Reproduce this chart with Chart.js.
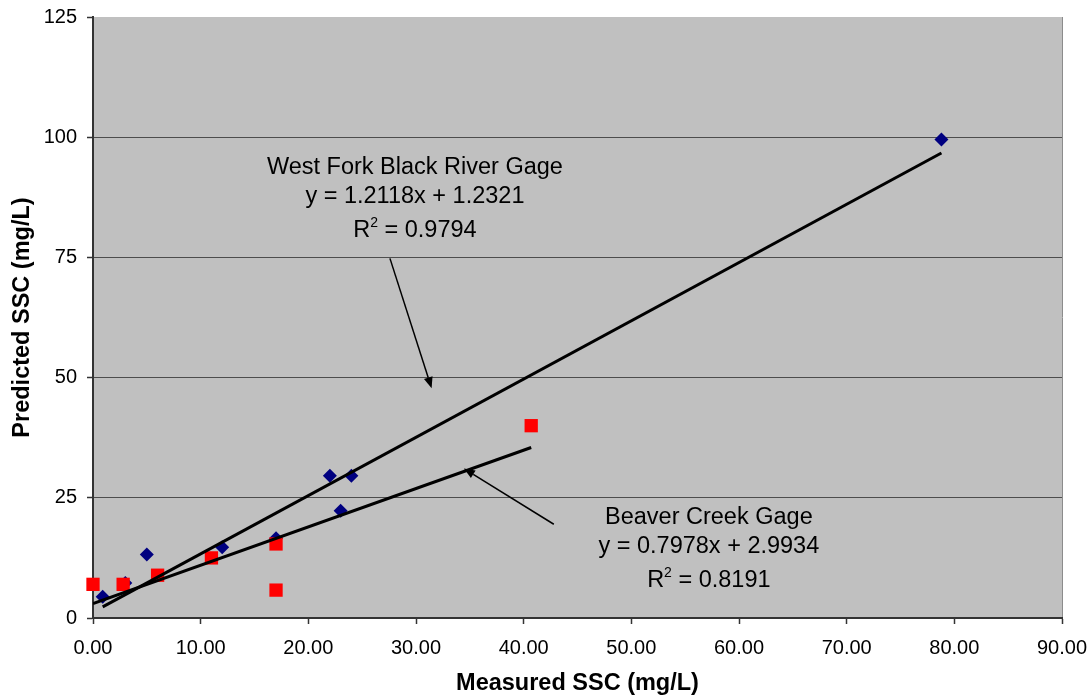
<!DOCTYPE html>
<html>
<head>
<meta charset="utf-8">
<script src="https://cdn.jsdelivr.net/npm/chart.js@4.4.1/dist/chart.umd.min.js"></script>
<style>
  html, body { margin: 0; padding: 0; background: #fff; }
</style>
</head>
<body>
<canvas id="chart" width="1089" height="698"></canvas>
<script>
// West Fork Black River gage (blue diamonds)
const westForkMeasured = [0.9, 3.0, 5.0, 12.0, 17.0, 22.0, 23.0, 24.0, 78.8];
const westForkPredicted = [4.4, 7.3, 13.2, 14.7, 16.6, 29.6, 22.3, 29.6, 99.5];

// Beaver Creek gage (red squares)
const beaverMeasured = [0.0, 2.8, 6.0, 11.0, 17.0, 17.0, 40.7];
const beaverPredicted = [7.0, 7.0, 8.9, 12.5, 15.4, 5.8, 40.0];

// Linear trend lines as printed on the chart
const westForkFit = { slope: 1.2118, intercept: 1.2321, r2: '0.9794' };
const beaverFit = { slope: 0.7978, intercept: 2.9934, r2: '0.8191' };

const xTicks = [0, 10, 20, 30, 40, 50, 60, 70, 80, 90];
const yTicks = [0, 25, 50, 75, 100, 125];

const FONT = "'Liberation Sans', Arial, sans-serif";

function points(xs, ys) {
  return xs.map((x, i) => ({ x: x, y: ys[i] }));
}

// trend line runs over the measured range of its own series
function trendPoints(xs, fit) {
  const lo = Math.min(...xs), hi = Math.max(...xs);
  return [lo, hi].map(x => ({ x: x, y: fit.slope * x + fit.intercept }));
}

function equation(fit) {
  return 'y = ' + fit.slope.toFixed(4) + 'x + ' + fit.intercept.toFixed(4);
}

// text boxes and arrows (in data units)
const notes = [
  { x: 29.9, y: 94.0, title: 'West Fork Black River Gage', fit: westForkFit },
  { x: 57.2, y: 21.3, title: 'Beaver Creek Gage', fit: beaverFit }
];
const arrows = [
  { from: [27.58, 74.8], to: [31.45, 47.8] },
  { from: [42.8, 19.5], to: [34.45, 31.1] }
];

// keep the plot area where the reference has it
function noEdgePadding(s) {
  s.paddingLeft = 0;
  s.paddingRight = 0;
  s.paddingTop = 0;
  s.paddingBottom = 0;
}

const backdrop = {
  id: 'backdrop',
  beforeDraw(chart) {
    const { ctx, chartArea: a } = chart;
    ctx.save();
    ctx.fillStyle = '#c0c0c0';
    ctx.fillRect(a.left, a.top, a.right - a.left, a.bottom - a.top);
    ctx.strokeStyle = '#8c8c8c';
    ctx.lineWidth = 1;
    ctx.beginPath();
    ctx.moveTo(a.right + 0.5, a.top);
    ctx.lineTo(a.right + 0.5, a.bottom);
    ctx.stroke();
    ctx.restore();
  }
};

const annotations = {
  id: 'annotations',
  afterDatasetsDraw(chart) {
    const { ctx } = chart;
    const xs = chart.scales.x, ys = chart.scales.y;
    ctx.save();

    // arrows
    ctx.strokeStyle = '#000';
    ctx.fillStyle = '#000';
    ctx.lineWidth = 1.5;
    arrows.forEach(a => {
      const x1 = xs.getPixelForValue(a.from[0]), y1 = ys.getPixelForValue(a.from[1]);
      const x2 = xs.getPixelForValue(a.to[0]), y2 = ys.getPixelForValue(a.to[1]);
      const ang = Math.atan2(y2 - y1, x2 - x1);
      const len = 11, half = 4.5;
      const bx = x2 - len * Math.cos(ang), by = y2 - len * Math.sin(ang);
      ctx.beginPath();
      ctx.moveTo(x1, y1);
      ctx.lineTo(bx, by);
      ctx.stroke();
      ctx.beginPath();
      ctx.moveTo(x2, y2);
      ctx.lineTo(bx + half * Math.sin(ang), by - half * Math.cos(ang));
      ctx.lineTo(bx - half * Math.sin(ang), by + half * Math.cos(ang));
      ctx.closePath();
      ctx.fill();
    });

    // labels
    const big = '23.5px ' + FONT, small = '14px ' + FONT;
    ctx.textBaseline = 'alphabetic';
    notes.forEach(n => {
      const cx = xs.getPixelForValue(n.x);
      const cy = ys.getPixelForValue(n.y);
      ctx.font = big;
      ctx.textAlign = 'center';
      ctx.fillText(n.title, cx, cy + 8);
      ctx.fillText(equation(n.fit), cx, cy + 37);

      // R² line with a raised 2
      const rest = ' = ' + n.fit.r2;
      const wR = ctx.measureText('R').width;
      const wRest = ctx.measureText(rest).width;
      ctx.font = small;
      const w2 = ctx.measureText('2').width;
      const total = wR + w2 + wRest;
      let x = cx - total / 2;
      const base = cy + 71;
      ctx.textAlign = 'left';
      ctx.font = big;
      ctx.fillText('R', x, base);
      x += wR;
      ctx.font = small;
      ctx.fillText('2', x, base - 10);
      x += w2;
      ctx.font = big;
      ctx.fillText(rest, x, base);
    });
    ctx.restore();
  }
};

new Chart(document.getElementById('chart'), {
  type: 'scatter',
  data: {
    datasets: [
      {
        label: 'West Fork trend',
        data: trendPoints(westForkMeasured, westForkFit),
        showLine: true,
        borderColor: '#000',
        borderWidth: 3,
        pointRadius: 0,
        order: 0
      },
      {
        label: 'Beaver Creek trend',
        data: trendPoints(beaverMeasured, beaverFit),
        showLine: true,
        borderColor: '#000',
        borderWidth: 3,
        pointRadius: 0,
        order: 0
      },
      {
        label: 'West Fork Black River Gage',
        data: points(westForkMeasured, westForkPredicted),
        pointStyle: 'rectRot',
        pointRadius: 7,
        backgroundColor: '#000080',
        borderColor: '#000080',
        borderWidth: 0,
        clip: false,
        order: 2
      },
      {
        label: 'Beaver Creek Gage',
        data: points(beaverMeasured, beaverPredicted),
        pointStyle: 'rect',
        pointRadius: 9.4,
        backgroundColor: '#ff0000',
        borderColor: '#ff0000',
        borderWidth: 0,
        clip: false,
        order: 1
      }
    ]
  },
  options: {
    responsive: false,
    animation: false,
    layout: { padding: { top: 17, right: 27, bottom: 0, left: 0 } },
    plugins: {
      legend: { display: false },
      tooltip: { enabled: false }
    },
    scales: {
      x: {
        type: 'linear',
        min: xTicks[0],
        max: xTicks[xTicks.length - 1],
        afterBuildTicks: s => { s.ticks = xTicks.map(v => ({ value: v })); },
        afterFit: s => { s.height = 80; noEdgePadding(s); },
        border: { color: '#333', width: 2 },
        grid: { drawOnChartArea: false, tickLength: 6, tickColor: '#333', tickWidth: 1.5 },
        ticks: {
          padding: 12,
          color: '#000',
          font: { family: FONT, size: 20 },
          maxRotation: 0,
          callback: v => Number(v).toFixed(2)
        },
        title: {
          display: true,
          text: 'Measured SSC (mg/L)',
          color: '#000',
          font: { family: FONT, size: 23.5, weight: 'bold' },
          padding: { top: 0, bottom: 0 }
        }
      },
      y: {
        type: 'linear',
        min: yTicks[0],
        max: yTicks[yTicks.length - 1],
        afterBuildTicks: s => { s.ticks = yTicks.map(v => ({ value: v })); },
        afterFit: s => { s.width = 93; noEdgePadding(s); },
        border: { color: '#333', width: 2 },
        grid: {
          color: c => (c.tick && c.tick.value === yTicks[yTicks.length - 1]) ? 'rgba(0,0,0,0)' : '#4d4d4d',
          lineWidth: 1,
          tickLength: 6,
          tickColor: '#333',
          tickWidth: 1.5
        },
        ticks: {
          padding: 10,
          color: '#000',
          font: { family: FONT, size: 20 }
        },
        title: {
          display: true,
          text: 'Predicted SSC (mg/L)',
          color: '#000',
          font: { family: FONT, size: 23.5, weight: 'bold' },
          padding: { top: 8, bottom: 0 }
        }
      }
    }
  },
  plugins: [backdrop, annotations]
});
</script>
</body>
</html>
